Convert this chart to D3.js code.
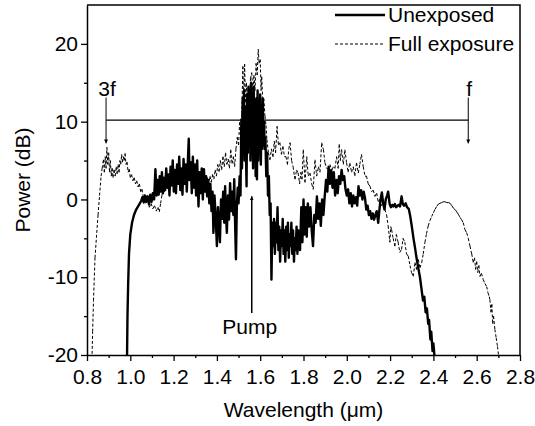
<!DOCTYPE html>
<html>
<head>
<meta charset="utf-8">
<script src="https://cdn.jsdelivr.net/npm/d3@7"></script>
<style>
  body { margin: 0; background: #fff; }
  text { font-family: "Liberation Sans", Arial, sans-serif; fill: #000; }
</style>
</head>
<body>
<div class="canvas"></div>
<script>
// ---- data: [wavelength (um), power (dB)]
const unexposed = [
  [0.985,-20],[0.987,-15],[0.990,-11],[0.994,-7],[1.000,-4.5],[1.008,-3],[1.017,-2],[1.027,-1.3],[1.040,-0.7],
  [1.050,-0.2],[1.056,0.3],[1.062,-0.4],[1.068,0.5],[1.074,-0.3],[1.080,0.4],[1.086,-0.6],[1.092,0.6],[1.098,-0.3],
  [1.104,0.8],[1.110,0.0],[1.116,3.9],[1.121,0.5],[1.126,2.5],[1.131,0.6],[1.136,3.0],[1.141,1.0],[1.146,3.5],
  [1.151,0.8],[1.156,2.8],[1.161,1.2],[1.166,4.0],[1.171,1.5],[1.176,3.2],[1.181,0.5],[1.186,4.2],[1.191,1.8],
  [1.196,5.0],[1.201,1.0],[1.206,3.8],[1.211,0.8],[1.216,4.5],[1.221,2.0],[1.226,5.5],[1.231,1.2],[1.236,4.0],
  [1.241,0.6],[1.246,5.2],[1.251,2.0],[1.256,4.5],[1.261,1.0],[1.266,5.0],[1.270,7.8],[1.274,2.5],[1.279,4.8],
  [1.284,0.8],[1.289,5.5],[1.294,1.5],[1.299,4.5],[1.304,0.5],[1.309,5.0],[1.315,-0.9],[1.320,3.5],[1.325,0.8],
  [1.330,4.0],[1.335,0.0],[1.340,3.9],[1.345,1.0],[1.350,3.0],[1.355,0.4],[1.360,2.5],[1.365,-0.5],[1.370,2.0],
  [1.375,-1.5],[1.380,1.0],[1.384,-4.3],[1.389,0.5],[1.394,-2.0],[1.400,-6.0],[1.405,-1.0],[1.410,-3.5],[1.414,-5.5],
  [1.419,0.0],[1.424,-2.5],[1.429,1.0],[1.434,-3.0],[1.438,1.7],[1.442,-2.0],[1.446,-4.3],[1.451,0.5],[1.456,-2.6],
  [1.461,2.1],[1.466,-1.5],[1.471,1.0],[1.476,-2.0],[1.480,2.6],[1.484,-3.0],[1.488,-7.7],[1.492,-1.0],[1.496,1.5],
  [1.500,-0.5],[1.505,3.0],[1.509,0.5],[1.513,10.3],[1.516,4.0],[1.519,13.0],[1.522,7.0],[1.525,14.0],[1.528,5.0],
  [1.531,12.0],[1.534,6.0],[1.537,1.7],[1.540,13.5],[1.543,6.0],[1.546,14.5],[1.549,8.0],[1.552,14.0],[1.555,5.0],
  [1.558,15.0],[1.561,7.0],[1.564,13.5],[1.567,4.0],[1.570,14.5],[1.573,8.0],[1.576,12.0],[1.579,3.0],[1.582,13.0],
  [1.585,2.6],[1.588,14.0],[1.591,5.0],[1.594,12.5],[1.597,7.0],[1.600,13.5],[1.603,4.5],[1.606,11.0],[1.609,6.5],
  [1.612,13.0],[1.615,7.0],[1.618,10.0],[1.621,6.5],[1.624,8.0],[1.628,3.0],[1.632,6.0],[1.636,0.5],[1.640,3.0],
  [1.644,-2.0],[1.648,-0.5],[1.652,-10.3],[1.656,-3.0],[1.660,-6.0],[1.664,-2.5],[1.668,-7.0],[1.672,-3.0],
  [1.676,-5.5],[1.680,-1.0],[1.684,-6.5],[1.688,-3.5],[1.692,-8.0],[1.696,-4.0],[1.700,-6.0],[1.704,-2.5],
  [1.708,-7.0],[1.712,-4.0],[1.716,-8.0],[1.720,-3.5],[1.724,-6.5],[1.728,-3.0],[1.732,-7.5],[1.736,-4.5],
  [1.740,-6.0],[1.744,-3.0],[1.748,-7.0],[1.752,-4.0],[1.756,-8.0],[1.760,-5.0],[1.764,-6.5],[1.768,-3.5],
  [1.772,-7.0],[1.776,-4.0],[1.780,-6.0],[1.784,-6.5],[1.790,-1.0],[1.795,-5.5],[1.800,0.0],[1.805,-4.5],
  [1.810,-1.0],[1.815,-4.8],[1.820,-0.5],[1.826,-3.5],[1.832,-1.0],[1.838,-4.0],[1.844,-6.0],[1.850,-2.0],
  [1.856,-3.0],[1.862,0.4],[1.868,-2.5],[1.874,-0.5],[1.880,-3.4],[1.886,0.0],[1.892,-2.0],[1.898,0.4],[1.904,2.5],
  [1.910,1.0],[1.916,4.2],[1.922,2.0],[1.928,3.8],[1.934,1.5],[1.940,3.5],[1.946,0.5],[1.952,2.5],[1.958,0.8],
  [1.964,3.0],[1.970,2.0],[1.976,3.8],[1.982,2.5],[1.988,3.0],[1.994,1.3],[2.000,0.5],[2.006,1.3],[2.012,-0.5],
  [2.018,0.8],[2.024,-0.9],[2.030,0.5],[2.036,-0.5],[2.042,0.3],[2.048,-0.8],[2.054,1.7],[2.060,0.5],[2.066,1.2],
  [2.072,0.0],[2.078,1.0],[2.084,0.2],[2.090,-1.3],[2.096,-0.8],[2.102,-2.0],[2.108,-1.5],[2.114,-2.5],[2.120,-1.8],
  [2.126,-2.6],[2.132,-2.0],[2.138,-1.5],[2.145,-3.0],[2.150,-1.5],[2.156,0.0],[2.162,0.9],[2.168,-0.5],[2.174,-1.3],
  [2.180,0.0],[2.186,0.5],[2.191,1.0],[2.198,-0.6],[2.204,-1.0],[2.210,-0.7],[2.216,-0.9],[2.222,-0.6],[2.228,-1.0],
  [2.234,-0.8],[2.240,-0.7],[2.246,-0.9],[2.253,0.4],[2.259,-0.6],[2.265,-0.8],[2.272,-0.5],[2.278,-1.0],
  [2.286,-1.2],[2.292,-2.0],[2.300,-3.4],[2.308,-5.0],[2.315,-6.2],[2.322,-7.5],[2.330,-8.8],[2.338,-10.0],
  [2.345,-11.5],[2.352,-13.0],[2.358,-12.5],[2.364,-14.5],[2.370,-14.0],[2.376,-16.0],[2.380,-15.5],[2.386,-18.0],
  [2.390,-17.0],[2.396,-19.5],[2.400,-18.5],[2.406,-20.5]
];

const fullExposure = [
  [0.823,-20.5],[0.826,-17],[0.830,-13],[0.837,-7.5],[0.845,-4.3],[0.851,-2.0],[0.858,0.5],[0.865,3.0],[0.870,4.0],
  [0.876,5.1],[0.880,3.5],[0.884,5.5],[0.888,4.0],[0.892,6.7],[0.896,4.5],[0.900,6.0],[0.904,3.5],[0.908,5.0],
  [0.912,3.0],[0.916,4.0],[0.920,2.8],[0.925,3.8],[0.930,3.0],[0.935,4.2],[0.939,3.3],[0.944,4.5],[0.948,3.5],
  [0.952,5.0],[0.956,4.5],[0.960,5.8],[0.964,4.8],[0.968,5.5],[0.972,5.0],[0.976,5.9],[0.980,4.5],[0.985,4.8],
  [0.990,3.5],[0.995,3.9],[1.000,2.8],[1.006,3.2],[1.012,2.4],[1.018,2.8],[1.024,2.0],[1.030,2.4],[1.036,1.6],
  [1.042,2.0],[1.048,1.0],[1.054,1.3],[1.060,0.3],[1.066,0.6],[1.072,-0.5],[1.080,0.0],[1.088,-1.0],[1.096,-0.5],
  [1.104,-1.2],[1.112,-0.8],[1.120,-1.5],[1.128,-1.0],[1.134,-1.6],[1.140,-0.5],[1.146,0.5],[1.152,1.8],[1.158,1.0],
  [1.164,2.5],[1.170,1.5],[1.176,3.0],[1.182,2.0],[1.188,3.2],[1.194,2.2],[1.200,3.5],[1.206,2.4],[1.212,3.0],
  [1.218,2.0],[1.224,3.6],[1.230,2.5],[1.236,3.2],[1.242,2.0],[1.248,3.8],[1.254,2.6],[1.260,3.4],[1.266,2.4],
  [1.272,3.6],[1.278,2.8],[1.284,3.4],[1.290,2.2],[1.296,3.5],[1.302,2.5],[1.308,3.2],[1.314,2.0],[1.320,3.0],
  [1.326,2.2],[1.332,3.4],[1.338,2.4],[1.344,3.0],[1.350,2.0],[1.356,2.8],[1.362,1.8],[1.368,3.0],[1.374,2.2],
  [1.380,3.2],[1.386,2.6],[1.392,3.8],[1.398,3.0],[1.404,4.5],[1.410,3.6],[1.416,5.0],[1.422,3.8],[1.428,5.5],
  [1.434,4.2],[1.440,6.0],[1.446,4.5],[1.452,5.2],[1.458,4.0],[1.464,6.4],[1.470,4.6],[1.476,5.5],[1.482,4.2],
  [1.488,6.5],[1.494,8.0],[1.500,7.0],[1.505,9.9],[1.510,8.0],[1.515,11.0],[1.520,17.1],[1.524,12.0],[1.528,17.4],
  [1.532,12.5],[1.536,15.0],[1.540,12.0],[1.545,14.5],[1.550,12.0],[1.555,15.5],[1.561,16.3],[1.566,13.5],
  [1.571,16.0],[1.576,14.0],[1.581,17.5],[1.586,16.0],[1.591,19.3],[1.595,17.5],[1.600,18.0],[1.604,14.0],
  [1.607,15.8],[1.612,12.5],[1.617,13.0],[1.622,10.7],[1.627,9.5],[1.631,7.7],[1.638,6.0],[1.645,5.1],[1.652,6.5],
  [1.659,5.5],[1.665,7.5],[1.671,6.0],[1.678,9.4],[1.684,7.0],[1.691,7.3],[1.698,5.8],[1.705,6.8],[1.712,5.5],
  [1.719,5.5],[1.726,4.5],[1.732,6.5],[1.738,7.3],[1.745,5.0],[1.752,4.2],[1.758,3.0],[1.761,2.6],[1.768,3.8],
  [1.775,3.4],[1.782,2.0],[1.788,3.5],[1.793,2.6],[1.799,6.4],[1.807,2.2],[1.815,5.5],[1.822,3.0],[1.830,3.4],
  [1.838,2.0],[1.845,1.3],[1.853,5.1],[1.861,3.0],[1.869,4.2],[1.876,3.5],[1.884,7.3],[1.892,6.4],[1.899,4.7],
  [1.907,4.0],[1.915,3.9],[1.922,4.5],[1.930,3.8],[1.938,4.2],[1.945,4.0],[1.953,5.5],[1.960,4.0],[1.965,7.1],
  [1.970,5.0],[1.976,6.4],[1.984,4.5],[1.991,6.4],[1.999,4.7],[2.006,3.5],[2.014,4.7],[2.022,3.5],[2.030,4.2],
  [2.037,3.0],[2.045,4.7],[2.053,3.4],[2.060,4.5],[2.068,5.8],[2.076,4.2],[2.084,3.0],[2.091,3.0],[2.099,2.0],
  [2.107,1.7],[2.115,1.0],[2.122,1.2],[2.130,0.4],[2.138,0.8],[2.145,-0.3],[2.153,0.0],[2.161,-0.8],[2.168,-0.5],
  [2.176,-1.3],[2.184,-2.0],[2.191,-3.4],[2.199,-5.5],[2.203,-3.5],[2.207,-3.9],[2.214,-5.0],[2.222,-6.0],
  [2.229,-4.5],[2.237,-5.5],[2.245,-6.8],[2.253,-6.4],[2.260,-5.0],[2.268,-5.5],[2.276,-7.0],[2.284,-7.3],
  [2.292,-8.5],[2.299,-9.4],[2.307,-9.9],[2.315,-8.1],[2.322,-9.0],[2.330,-7.7],[2.338,-8.8],[2.346,-8.1],
  [2.353,-7.0],[2.361,-5.5],[2.368,-4.4],[2.376,-3.4],[2.384,-2.7],[2.392,-2.2],[2.400,-1.7],[2.407,-1.3],
  [2.415,-0.9],[2.423,-0.6],[2.430,-0.5],[2.438,-0.4],[2.446,-0.3],[2.454,-0.3],[2.461,-0.4],[2.469,-0.4],
  [2.477,-0.5],[2.485,-0.8],[2.492,-1.1],[2.500,-1.3],[2.508,-1.6],[2.515,-1.9],[2.523,-2.3],[2.530,-2.6],
  [2.538,-3.0],[2.546,-3.9],[2.554,-4.3],[2.561,-5.0],[2.569,-6.0],[2.577,-7.0],[2.584,-8.1],[2.590,-7.5],
  [2.595,-9.0],[2.600,-8.0],[2.605,-9.4],[2.610,-8.5],[2.615,-9.9],[2.622,-9.5],[2.630,-10.3],[2.638,-10.8],
  [2.646,-11.2],[2.652,-12.0],[2.658,-12.5],[2.661,-12.9],[2.666,-14.5],[2.670,-13.5],[2.674,-16.0],[2.678,-15.0],
  [2.684,-16.7],[2.690,-17.8],[2.696,-18.9],[2.703,-20.5]
];

const xTicks = [0.8, 1.0, 1.2, 1.4, 1.6, 1.8, 2.0, 2.2, 2.4, 2.6, 2.8];
const xMinor = [0.9, 1.1, 1.3, 1.5, 1.7, 1.9, 2.1, 2.3, 2.5, 2.7];
const yTicks = [-20, -10, 0, 10, 20];
const yMinor = [-15, -5, 5, 15];
const legendNames = ["Unexposed", "Full exposure"];

// annotations: harmonic markers + pump arrow
const harmonicLevel = 10.2;
const harmonics = [{ label: "3f", wl: 0.888 }, { label: "f", wl: 2.561 }];
const pump = { label: "Pump", wl: 1.561, top: 0.4, bottom: -14.6 };

// ---- layout
const W = 535, H = 426;
const margin = { left: 87, top: 5, right: 15, bottom: 71 };
const graphWidth = W - margin.left - margin.right;
const graphHeight = H - margin.top - margin.bottom;
const fs = 21;

const svg = d3.select('.canvas').append('svg')
    .attr('width', W)
    .attr('height', H);

const defs = svg.append('defs');
defs.append('marker')
    .attr('id', 'arrow')
    .attr('viewBox', '0 0 10 10')
    .attr('refX', 10).attr('refY', 5)
    .attr('markerWidth', 4).attr('markerHeight', 6)
    .attr('markerUnits', 'userSpaceOnUse')
    .attr('orient', 'auto')
  .append('path')
    .attr('d', 'M0,0 L10,5 L0,10 z')
    .attr('fill', '#000');

defs.append('clipPath').attr('id', 'plotclip')
  .append('rect').attr('width', graphWidth).attr('height', graphHeight);

const graph = svg.append('g')
    .attr('transform', `translate(${margin.left},${margin.top})`);

// scales
const x = d3.scaleLinear().domain([0.8, 2.8]).range([0, graphWidth]);
const y = d3.scaleLinear().domain([-20, 25]).range([graphHeight, 0]);

// axes
const xAxis = d3.axisBottom(x).tickValues(xTicks).tickFormat(d3.format('.1f'))
    .tickSize(6).tickSizeOuter(0).tickPadding(4);
const xAxisMinor = d3.axisBottom(x).tickValues(xMinor).tickFormat('').tickSize(3).tickSizeOuter(0);
const yAxis = d3.axisLeft(y).tickValues(yTicks).tickFormat(d => d)
    .tickSize(6).tickSizeOuter(0).tickPadding(3);
const yAxisMinor = d3.axisLeft(y).tickValues(yMinor).tickFormat('').tickSize(3).tickSizeOuter(0);

const xAxisGroup = graph.append('g').attr('transform', `translate(0,${graphHeight})`).call(xAxis);
graph.append('g').attr('transform', `translate(0,${graphHeight})`).call(xAxisMinor)
    .select('.domain').remove();
const yAxisGroup = graph.append('g').call(yAxis);
graph.append('g').call(yAxisMinor).select('.domain').remove();

graph.selectAll('.tick line').attr('stroke', '#000').attr('stroke-width', 1.3);
graph.selectAll('.domain').attr('stroke', '#000').attr('stroke-width', 1.5);
xAxisGroup.selectAll('text').attr('font-size', fs).attr('dy', '0.9em');
yAxisGroup.selectAll('text').attr('font-size', fs);

// frame (top + right)
graph.append('path')
    .attr('d', `M0,0 H${graphWidth} V${graphHeight}`)
    .attr('fill', 'none').attr('stroke', '#000').attr('stroke-width', 1.5);

// axis titles
svg.append('text')
    .attr('x', margin.left + graphWidth / 2).attr('y', 417)
    .attr('text-anchor', 'middle').attr('font-size', fs)
    .text('Wavelength (\u03bcm)');
svg.append('text')
    .attr('transform', `translate(30,${margin.top + y(2.5)}) rotate(-90)`)
    .attr('text-anchor', 'middle').attr('font-size', fs)
    .text('Power (dB)');

// curves
const line = d3.line().x(d => x(d[0])).y(d => y(d[1]));
// one subpath per step, so the dash pattern restarts on every segment
const stepPath = data => data.slice(1)
    .map((d, i) => `M${x(data[i][0])},${y(data[i][1])}L${x(d[0])},${y(d[1])}`)
    .join('');
const plot = graph.append('g').attr('clip-path', 'url(#plotclip)');

plot.append('path').datum(fullExposure)
    .attr('d', stepPath)
    .attr('fill', 'none').attr('stroke', '#000')
    .attr('stroke-width', 1).attr('stroke-dasharray', '3,2');

plot.append('path').datum(unexposed)
    .attr('d', line)
    .attr('fill', 'none').attr('stroke', '#000')
    .attr('stroke-width', 2.4).attr('stroke-linejoin', 'round');

// harmonic markers
const hLeft = x(harmonics[0].wl), hRight = x(harmonics[1].wl);
graph.append('line')
    .attr('x1', hLeft).attr('x2', hRight)
    .attr('y1', y(harmonicLevel)).attr('y2', y(harmonicLevel))
    .attr('stroke', '#000').attr('stroke-width', 1.2);
harmonics.forEach(h => {
    graph.append('line')
        .attr('x1', x(h.wl)).attr('x2', x(h.wl))
        .attr('y1', y(13.1)).attr('y2', y(7.2))
        .attr('stroke', '#000').attr('stroke-width', 1)
        .attr('marker-end', 'url(#arrow)');
    graph.append('text')
        .attr('x', x(h.wl) + 1).attr('y', y(13.1) - 2)
        .attr('text-anchor', 'middle').attr('font-size', fs)
        .text(h.label);
});

// pump arrow
graph.append('line')
    .attr('x1', x(pump.wl)).attr('x2', x(pump.wl))
    .attr('y1', y(pump.bottom)).attr('y2', y(pump.top))
    .attr('stroke', '#000').attr('stroke-width', 1.5)
    .attr('marker-end', 'url(#arrow)');
graph.append('text')
    .attr('x', x(pump.wl) - 2).attr('y', y(pump.bottom) + 21)
    .attr('text-anchor', 'middle').attr('font-size', fs)
    .text(pump.label);

// legend
const legend = svg.append('g').attr('transform', 'translate(335,15)');
legendNames.forEach((name, i) => {
    const row = legend.append('g').attr('transform', `translate(0,${i * 29})`);
    row.append('line')
        .attr('x1', 0).attr('x2', 50).attr('y1', 0).attr('y2', 0)
        .attr('stroke', '#000')
        .attr('stroke-width', i === 0 ? 2.4 : 1)
        .attr('stroke-dasharray', i === 0 ? null : '3,2');
    row.append('text')
        .attr('x', 53).attr('y', 0).attr('dy', '0.35em')
        .attr('font-size', fs)
        .text(name);
});
</script>
</body>
</html>
